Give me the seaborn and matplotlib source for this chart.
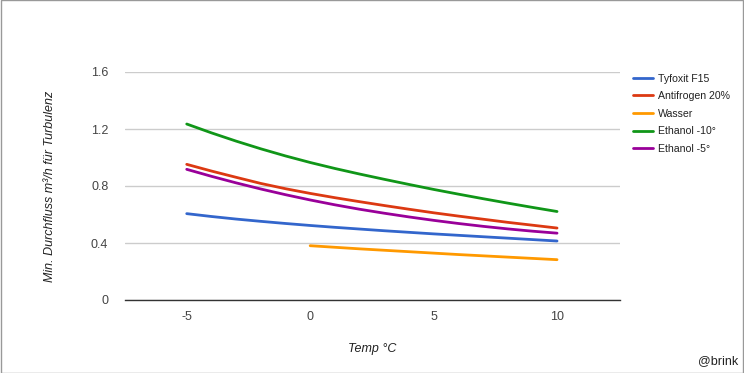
import matplotlib
matplotlib.use("Agg")
import matplotlib.pyplot as plt
import pandas as pd
import seaborn as sns

# values
temps = [-5, -4, -3, -2, -1, 0, 1, 2, 3, 4, 5, 6, 7, 8, 9, 10]
tyfoxit = [0.606, 0.586, 0.568, 0.552, 0.537, 0.523, 0.510, 0.498, 0.486, 0.475,
           0.464, 0.454, 0.444, 0.434, 0.424, 0.414]
antifrogen = [0.952, 0.905, 0.861, 0.818, 0.781, 0.748, 0.718, 0.690, 0.663, 0.637,
              0.612, 0.589, 0.567, 0.545, 0.525, 0.505]
wasser = [None, None, None, None, None, 0.381, 0.370, 0.359, 0.349, 0.339,
          0.329, 0.319, 0.310, 0.301, 0.292, 0.283]
ethanol10 = [1.235, 1.173, 1.115, 1.061, 1.011, 0.965, 0.923, 0.884, 0.847, 0.811,
             0.776, 0.743, 0.711, 0.680, 0.650, 0.621]
ethanol5 = [0.917, 0.868, 0.822, 0.779, 0.739, 0.702, 0.668, 0.637, 0.609, 0.583,
            0.559, 0.537, 0.517, 0.499, 0.483, 0.469]

names = ["Tyfoxit F15", "Antifrogen 20%", "Wasser", "Ethanol -10°", "Ethanol -5°"]
colors = ["#3366cc", "#dc3912", "#ff9900", "#109618", "#990099"]

rows = []
for name, vals in zip(names, [tyfoxit, antifrogen, wasser, ethanol10, ethanol5]):
    for t, v in zip(temps, vals):
        if v is not None:
            rows.append({"Temp": t, "Durchfluss": v, "Medium": name})
df = pd.DataFrame(rows)

sns.set_style("white")
plt.rcParams["font.family"] = ["Liberation Sans", "DejaVu Sans"]

fig = plt.figure(figsize=(7.44, 3.73), dpi=100)
ax = fig.add_axes([125 / 744, 1 - 300 / 373, 495 / 744, 228 / 373])

sns.lineplot(data=df, x="Temp", y="Durchfluss", hue="Medium", hue_order=names,
             palette=colors, linewidth=2, ax=ax, legend=False)

ax.set_xlim(-7.5, 12.55)
ax.set_ylim(0, 1.6)
ax.set_xticks([-5, 0, 5, 10])
ax.set_xticklabels(["-5", "0", "5", "10"])
ax.set_yticks([0, 0.4, 0.8, 1.2, 1.6])
ax.set_yticklabels(["0", "0.4", "0.8", "1.2", "1.6"])
ax.yaxis.grid(True, color="#cccccc", linewidth=1)
ax.xaxis.grid(False)
for s in ["top", "right", "left"]:
    ax.spines[s].set_visible(False)
ax.spines["bottom"].set_color("#333333")
ax.spines["bottom"].set_linewidth(1)
ax.tick_params(axis="both", length=0, labelsize=9, colors="#444444")
ax.tick_params(axis="x", pad=8)
ax.tick_params(axis="y", pad=12)
ax.set_axisbelow(True)

ax.set_xlabel("Temp °C", fontsize=9, style="italic", color="#222222", labelpad=14)
ax.set_ylabel("Min. Durchfluss m³/h für Turbulenz", fontsize=9, style="italic",
              color="#222222", labelpad=25)

handles = [plt.Line2D([], [], color=c, linewidth=2) for c in colors]
fig.legend(handles, names, loc="upper left", bbox_to_anchor=(623 / 744, 1 - 64 / 373),
           frameon=False, fontsize=7.6, handlelength=1.9, handletextpad=0.5,
           labelspacing=0.72, labelcolor="#222222")

fig.text(738 / 744, 1 - 361 / 373, "@brink", ha="right", va="center", fontsize=9, color="#222222")

# outer border
fig.patches.append(plt.Rectangle((0.0007, 0.0013), 0.9986, 0.9974, transform=fig.transFigure,
                                 fill=False, edgecolor="#999999", linewidth=1))

fig.savefig("out.png", dpi=100)
